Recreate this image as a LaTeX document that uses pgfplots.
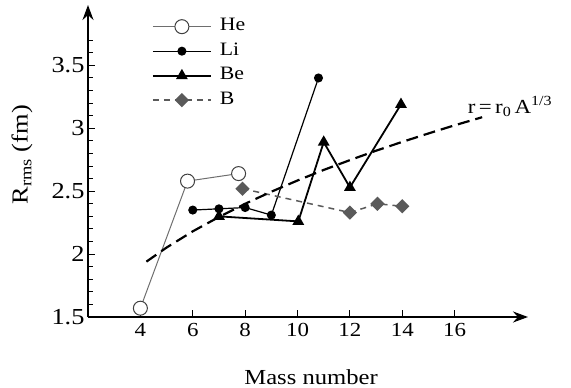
\documentclass[border=0pt]{standalone}
\usepackage{pgfplots}
\pgfplotsset{compat=1.18}
\usepackage{fontspec}
\setmainfont{Liberation Serif}[FakeStretch=1.15]
\usetikzlibrary{arrows.meta}
\definecolor{hegray}{HTML}{6E6E6E}
\definecolor{bgray}{HTML}{5A5A5A}
\begin{document}
\begin{tikzpicture}
\begin{axis}[
  scale only axis, width=440bp, height=312bp,
  xmin=2, xmax=18.8, ymin=1.5, ymax=3.98,
  axis lines=left,
  axis line style={line width=1.6bp, -{Stealth[length=15bp,width=11bp]}},
  xtick={4,6,8,10,12,14,16},
  ytick={1.5,2,2.5,3,3.5},
  minor ytick={1.6,1.7,1.8,1.9,2.1,2.2,2.3,2.4,2.6,2.7,2.8,2.9,3.1,3.2,3.3,3.4,3.6,3.7},
  tick align=inside,
  major tick length=7bp, minor tick length=5bp,
  tick style={line width=1bp, black},
  /pgf/number format/assume math mode=true,
  xticklabel style={font=\fontsize{20}{24}\selectfont, yshift=-3bp},
  yticklabel style={font=\fontsize{23}{26}\selectfont},
  xlabel={Mass number}, ylabel={R\textsubscript{rms} (fm)},
  every axis x label/.style={at={(rel axis cs:0.507,0)}, yshift=-60bp, anchor=center,
    font=\fontsize{21.5}{26}\selectfont},
  every axis y label/.style={at={(rel axis cs:0,0.52)}, xshift=-66bp, rotate=90, anchor=center,
    font=\fontsize{23}{26}\selectfont},
  clip=false,
  legend style={draw=none, fill=none, at={(0.145,0.96)}, anchor=north west,
    row sep=6.5bp, column sep=6bp, inner sep=0pt,
    nodes={text height=11bp, text depth=3bp, inner sep=2bp, font=\fontsize{19}{22}\selectfont}},
  legend cell align=left,
  legend image code/.code={\draw[mark repeat=2,mark phase=2] plot coordinates {(0bp,0bp) (29bp,0bp) (58bp,0bp)};},
]
\addplot[color=hegray, line width=1bp, mark=*, mark size=7bp,
  mark options={fill=white, draw=black!75, line width=1bp}]
  coordinates {(4,1.57) (5.8,2.58) (7.75,2.64)};
\addlegendentry{He}
\addplot[black, line width=1.2bp, mark=*, mark size=3.9bp]
  coordinates {(6,2.35) (7,2.36) (8,2.37) (9,2.31) (10.8,3.40)};
\addlegendentry{Li}
\addplot[black, line width=1.8bp, mark=triangle*, mark size=5bp, mark options={solid}]
  coordinates {(7,2.30) (10.03,2.26) (11,2.89) (12,2.53) (13.95,3.19)};
\addlegendentry{Be}
\addplot[bgray, line width=1.5bp, dash pattern=on 6bp off 5bp, mark=square*, mark size=4.3bp,
  mark options={solid, rotate=45}]
  coordinates {(7.9,2.52) (12,2.33) (13.05,2.40) (14,2.38)};
\addlegendentry{B}
\addplot[black, line width=2.2bp, dash pattern=on 12bp off 6bp, forget plot]
  coordinates {(4.23,1.94) (5,2.052) (6,2.181) (7,2.295) (8,2.400) (9,2.496) (10,2.585)
   (11,2.669) (12,2.747) (13,2.822) (14,2.892) (15,2.959) (16,3.024) (17.05,3.088)};
\node[anchor=base west, inner sep=0pt, font=\fontsize{20}{24}\selectfont]
  at (axis cs:16.5,3.12) {r\,=\,r\textsubscript{0}\,A\textsuperscript{1/3}};
\end{axis}
\pgfresetboundingbox
\path[use as bounding box] (-88bp,-71bp) rectangle (483bp,317bp);
\end{tikzpicture}
\end{document}
